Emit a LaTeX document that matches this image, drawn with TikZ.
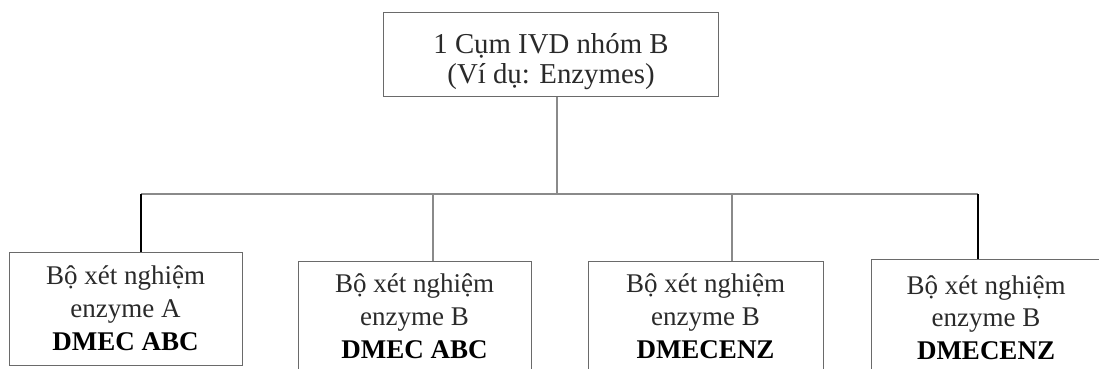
\documentclass[tikz,border=0pt]{standalone}
\usepackage{fontspec}
\setmainfont{Liberation Serif}
\definecolor{boxgray}{HTML}{6A6A6A}
\definecolor{linegray}{HTML}{8A8A8A}
\definecolor{txtcol}{HTML}{2A2A2A}
\begin{document}
\begin{tikzpicture}[x=1pt,y=-1pt,
  box/.style={draw=boxgray,line width=1.3pt,anchor=north west,inner sep=0pt},
  txt/.style={anchor=base,inner sep=0pt,text=txtcol,font=\fontsize{27}{32}\selectfont},
  toptxt/.style={txt,font=\fontsize{28.8}{34}\selectfont},
  btxt/.style={txt,font=\fontsize{27}{32}\selectfont\bfseries,text=black},
  thinconn/.style={draw=linegray,line width=1.1pt},
  thickconn/.style={draw=black,line width=2.6pt}]
\useasboundingbox (0,0) rectangle (1099,369);
\clip (0,0) rectangle (1099,369);
\fill[white] (0,0) rectangle (1099,369);
% top box
\node[box,minimum width=335pt,minimum height=84pt] (top) at (383,12) {};
\node[toptxt] (t1) at (551,53) {1 Cụm IVD nhóm B};
\node[toptxt] (t2) at (551,83) {(Ví dụ: Enzymes)};
% child boxes
\node[box,minimum width=233pt,minimum height=113pt] (b1) at (9,252) {};
\node[box,minimum width=233pt,minimum height=130pt] (b2) at (298,261) {};
\node[box,minimum width=235pt,minimum height=130pt] (b3) at (588,261) {};
\node[box,minimum width=240pt,minimum height=130pt] (b4) at (871,259) {};
% texts
\node[txt]  (b1a) at (125.5,284) {Bộ xét nghiệm};
\node[txt]  (b1b) at (125.5,317) {enzyme A};
\node[btxt] (b1c) at (125.5,350) {DMEC ABC};
\node[txt]  (b2a) at (414.5,292) {Bộ xét nghiệm};
\node[txt]  (b2b) at (414.5,325) {enzyme B};
\node[btxt] (b2c) at (414.5,358) {DMEC ABC};
\node[txt]  (b3a) at (705.5,292) {Bộ xét nghiệm};
\node[txt]  (b3b) at (705.5,325) {enzyme B};
\node[btxt] (b3c) at (705.5,358) {DMECENZ};
\node[txt]  (b4a) at (986,294) {Bộ xét nghiệm};
\node[txt]  (b4b) at (986,326) {enzyme B};
\node[btxt] (b4c) at (986,359) {DMECENZ};
% connectors
\coordinate (j)  at (557,194);
\coordinate (hl) at (141,194);
\coordinate (d2) at (433,194);
\coordinate (d3) at (732,194);
\coordinate (hr) at (978,194);
\draw[thinconn] (top.south -| j) -- (j);
\draw[thinconn] (hl) -- (hr);
\draw[thinconn] (d2) -- (d2 |- b2.north);
\draw[thinconn] (d3) -- (d3 |- b3.north);
\draw[thickconn] (hl) -- (hl |- b1.north);
\draw[thickconn] (hr) -- (hr |- b4.north);
\end{tikzpicture}
\end{document}
